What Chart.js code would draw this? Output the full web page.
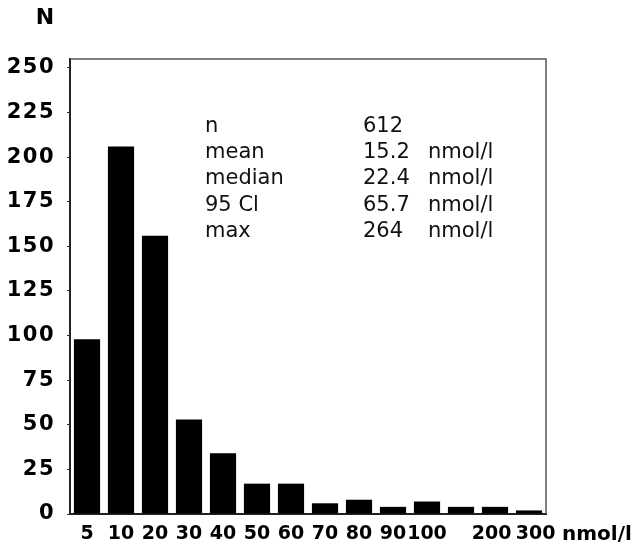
<!DOCTYPE html>
<html>
<head>
<meta charset="utf-8">
<script src="https://cdn.jsdelivr.net/npm/chart.js@4"></script>
<style>
  html, body { margin: 0; padding: 0; background: #fff; }
  canvas { display: block; }
</style>
</head>
<body>
<canvas id="hist" width="640" height="549"></canvas>
<script>
// Concentration classes (upper bound, nmol/l) and number of subjects per class
const categories = ['5', '10', '20', '30', '40', '50', '60', '70', '80', '90', '100', '', '200 ', '  300'];
const counts = [98, 206, 156, 53, 34, 17, 17, 6, 8, 4, 7, 4, 4, 2];
const yTicks = [0, 25, 50, 75, 100, 125, 150, 175, 200, 225, 250];

// Summary statistics block
const statNames = ['n', 'mean', 'median', '95 Cl', 'max'];
const statValues = ['612', '15.2', '22.4', '65.7', '264'];
const statUnits = ['', 'nmol/l', 'nmol/l', 'nmol/l', 'nmol/l'];

const FONT = '"DejaVu Sans", Verdana, sans-serif';

// Frame, axis titles and the statistics table
const decorations = {
  id: 'decorations',
  beforeDraw(chart) {
    // slightly wider spacing for the count labels
    const y = chart.scales.y;
    if (y && !y._spaced) {
      const orig = y.drawLabels.bind(y);
      y.drawLabels = function (area) {
        const ctx = this.ctx;
        ctx.save();
        ctx.letterSpacing = '1.5px';
        orig(area);
        ctx.restore();
      };
      y._spaced = true;
    }
  },
  afterDraw(chart) {
    const { ctx, chartArea: a } = chart;
    ctx.save();
    // top and right sides of the box
    ctx.strokeStyle = '#555';
    ctx.lineWidth = 1.5;
    ctx.beginPath();
    ctx.moveTo(a.left, a.top);
    ctx.lineTo(a.right, a.top);
    ctx.lineTo(a.right, a.bottom);
    ctx.stroke();

    ctx.fillStyle = '#000';
    ctx.textBaseline = 'alphabetic';
    // y axis title
    ctx.font = 'bold 22px ' + FONT;
    ctx.textAlign = 'center';
    ctx.fillText('N', 45, 24);
    // x axis unit
    ctx.font = 'bold 20px ' + FONT;
    ctx.textAlign = 'left';
    ctx.fillText('nmol/l', a.right + 16, a.bottom + 26);

    // statistics
    ctx.font = '21px ' + FONT;
    ctx.fillStyle = '#111';
    for (let i = 0; i < statNames.length; i++) {
      const by = a.top + 73 + i * 26.2;
      ctx.fillText(statNames[i], a.left + 135, by);
      ctx.fillText(statValues[i], a.left + 293, by);
      if (statUnits[i]) ctx.fillText(statUnits[i], a.left + 358, by);
    }
    ctx.restore();
  }
};

new Chart(document.getElementById('hist'), {
  type: 'bar',
  data: {
    labels: categories,
    datasets: [{
      data: counts,
      backgroundColor: '#000',
      borderWidth: 0,
      barPercentage: 0.77,
      categoryPercentage: 1.0
    }]
  },
  options: {
    responsive: false,
    animation: false,
    devicePixelRatio: 1,
    layout: { padding: { left: 0, right: 94, top: 59, bottom: 0 } },
    plugins: {
      legend: { display: false },
      tooltip: { enabled: false },
      title: { display: false }
    },
    scales: {
      x: {
        type: 'category',
        offset: true,
        grid: { display: false },
        border: { display: true, color: '#222', width: 2 },
        ticks: {
          color: '#000',
          font: { family: FONT, size: 19, weight: 'bold' },
          padding: 1,
          maxRotation: 0,
          autoSkip: false
        },
        afterFit(s) { s.height = 35; }
      },
      y: {
        min: 0,
        max: 255,
        afterBuildTicks(s) { s.ticks = yTicks.map(v => ({ value: v })); },
        afterFit(s) { s.width = 70; },
        grid: {
          display: true,
          drawOnChartArea: false,
          drawTicks: true,
          tickLength: 3,
          color: '#333',
          lineWidth: 1
        },
        border: { display: true, color: '#222', width: 2 },
        ticks: {
          color: '#000',
          font: { family: FONT, size: 21, weight: 'bold' },
          padding: 12
        }
      }
    }
  },
  plugins: [decorations]
});
</script>
</body>
</html>
